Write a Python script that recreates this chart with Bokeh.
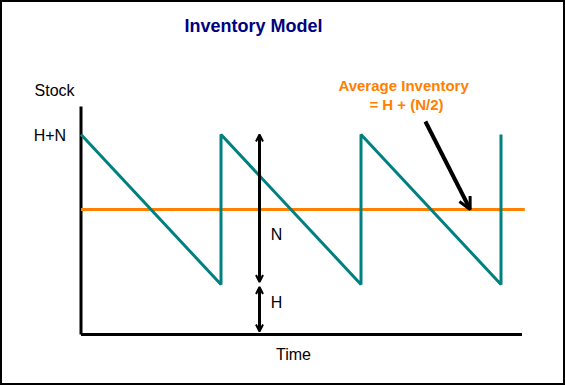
from bokeh.plotting import figure
from bokeh.models import Range1d, Arrow, OpenHead, Label
from bokeh.embed import file_html
from bokeh.resources import INLINE

# ---- data ----
H = 1.0            # safety stock
N = 3.0            # order quantity
cycle_time = [0, 1, 1, 2, 2, 3, 3]
stock_level = [4, 1, 4, 1, 4, 1, 4]
avg_inventory = H + N / 2
time_axis_end = 3.15
stock_axis_end = 4.56
avg_line_end = 3.17
dim_time = 1.275                 # time at which N / H dimension arrows sit
callout_from = (2.46, 4.26)      # start of callout arrow (time, stock)
callout_to_time = 2.78

FONT = "Liberation Sans"

p = figure(width=565, height=385, output_backend="svg", toolbar_location=None,
           x_range=Range1d(-0.575, 3.4607), y_range=Range1d(-1.02, 6.68),
           min_border=0, background_fill_color="white", border_fill_color="white")
p.xaxis.visible = False
p.yaxis.visible = False
p.xgrid.visible = False
p.ygrid.visible = False
p.outline_line_color = "black"
p.outline_line_width = 3

# axes drawn as plain lines
p.line([0, 0], [0, stock_axis_end], line_color="black", line_width=3)
p.line([0, time_axis_end], [0, 0], line_color="black", line_width=3)

# average inventory line
p.line([0, avg_line_end], [avg_inventory, avg_inventory], line_color="#FF8000", line_width=3)

# sawtooth stock curve
p.line(cycle_time, stock_level, line_color="#008080", line_width=3)

# dimension arrows N and H
gap = 0.05
p.add_layout(Arrow(x_start=dim_time, y_start=H + gap, x_end=dim_time, y_end=H + N,
                   line_color="black", line_width=3,
                   start=OpenHead(size=7, line_width=2), end=OpenHead(size=7, line_width=2)))
p.add_layout(Arrow(x_start=dim_time, y_start=0.06, x_end=dim_time, y_end=H - gap,
                   line_color="black", line_width=3,
                   start=OpenHead(size=7, line_width=2), end=OpenHead(size=7, line_width=2)))

# callout arrow
p.add_layout(Arrow(x_start=callout_from[0], y_start=callout_from[1],
                   x_end=callout_to_time, y_end=avg_inventory,
                   line_color="black", line_width=4,
                   end=OpenHead(size=12, line_width=3, line_color="black")))

def lab(x, y, text, size="16px", color="black", bold=False):
    p.add_layout(Label(x=x, y=y, text=text, text_font=FONT, text_font_size=size,
                       text_color=color, text_align="center", text_baseline="middle",
                       text_font_style="bold" if bold else "normal"))

lab(1.232, 6.18, "Inventory Model", size="18px", color="#000080", bold=True)
lab(-0.189, 4.88, "Stock")
lab(-0.222, 3.99, "H+N")
lab(1.518, -0.39, "Time")
lab(1.396, 2.0, "N")
lab(1.396, 0.65, "H")
lab(2.304, 4.98, "Average Inventory", size="15px", color="#FF8000", bold=True)
lab(2.325, 4.60, "= H + (N/2)", size="15px", color="#FF8000", bold=True)

open("out.html", "w").write(file_html(p, INLINE))
